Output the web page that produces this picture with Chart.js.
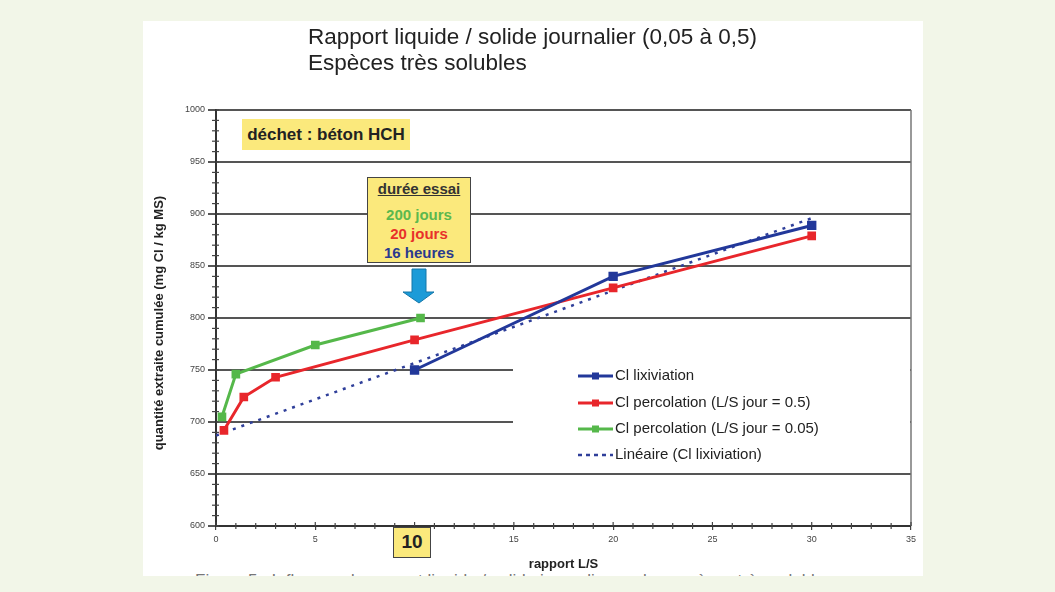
<!DOCTYPE html>
<html><head><meta charset="utf-8">
<script src="https://cdn.jsdelivr.net/npm/chart.js@4.4.1/dist/chart.umd.min.js"></script>
<style>
html,body{margin:0;padding:0;width:1055px;height:592px;overflow:hidden;background:#f2f6e8;font-family:"Liberation Sans",Arial,sans-serif;}
#panel{position:absolute;left:143px;top:21px;width:780px;height:555px;background:#fff;overflow:hidden;}
#cap{position:absolute;left:52px;top:550px;font-size:17px;color:#777;white-space:nowrap;}
#c{position:absolute;left:0;top:0;}
.t{position:absolute;color:#222;white-space:nowrap;}
.box{position:absolute;background:#fbe97c;box-sizing:border-box;text-align:center;font-weight:bold;color:#222;}
</style></head><body>
<div id="panel"><div id="cap">Figure 5 : Influence du rapport liquide / solide journalier sur les espèces très solubles</div></div>
<canvas id="c" width="1055" height="592"></canvas>
<div class="t" style="left:308px;top:24px;font-size:22.5px">Rapport liquide / solide journalier (0,05 à 0,5)</div>
<div class="t" style="left:308px;top:50px;font-size:22.5px">Espèces très solubles</div>
<div class="box" style="left:242px;top:119px;width:168px;height:31px;font-size:17px;line-height:31px;">déchet : béton HCH</div>
<div class="box" style="left:367px;top:177px;width:104px;height:86px;border:1.5px solid #444;font-size:15px;line-height:19px;padding-top:1px;">
<div style="text-decoration:underline;color:#333">durée essai</div>
<div style="height:7px"></div>
<div style="color:#5cb84e">200 jours</div>
<div style="color:#e8312a">20 jours</div>
<div style="color:#2a3a8f">16 heures</div>
</div>
<div class="box" style="left:393px;top:527px;width:38px;height:31px;border:1.5px solid #444;font-size:19px;line-height:28px;">10</div>
<script>
// ---- data ----
const xTicksMin = 0, xTicksMax = 35, xTickStep = 5;
const yTicksMin = 600, yTicksMax = 1000, yTickStep = 50;
const seriesNames = ["Cl lixiviation", "Cl percolation (L/S jour = 0.5)", "Cl percolation (L/S jour = 0.05)", "Linéaire (Cl lixiviation)"];
const lixX = [10, 20, 30];
const lixY = [750, 840, 889];
const perc05X = [0.4, 1.4, 3, 10, 20, 30];
const perc05Y = [692, 724, 743, 779, 829, 879];
const perc005X = [0.3, 1, 5, 10.3];
const perc005Y = [705, 746, 774, 800];
const trendX = [0, 30];
const trendY = [687, 896];
const xTitle = "rapport L/S";
const yTitle = "quantité extraite cumulée (mg Cl / kg MS)";

const FONT = '"Liberation Sans", Arial, sans-serif';
const pts = (xs, ys) => xs.map((x, i) => ({x: x, y: ys[i]}));
const colors = ['#22389a', '#e8262b', '#55b84a', '#2f3f9a'];

const decor = {
  id: 'decor',
  beforeDatasetsDraw(chart) {
    const ctx = chart.ctx, a = chart.chartArea, xs = chart.scales.x, ys = chart.scales.y;
    ctx.save();
    // legend box (white, hides grid)
    ctx.fillStyle = '#fff';
    ctx.fillRect(513, 348, a.right - 514, 118);
    // right border
    ctx.strokeStyle = '#777'; ctx.lineWidth = 1.5;
    ctx.beginPath(); ctx.moveTo(a.right, a.top); ctx.lineTo(a.right, a.bottom); ctx.stroke();
    // minor ticks
    ctx.strokeStyle = '#444'; ctx.lineWidth = 1.2;
    for (let v = yTicksMin; v <= yTicksMax; v += 10) {
      const p = ys.getPixelForValue(v);
      ctx.beginPath();
      if (v % 50 === 0) { ctx.moveTo(a.left, p); ctx.lineTo(a.left + 3, p); }
      else { ctx.moveTo(a.left - 4, p); ctx.lineTo(a.left + 3, p); }
      ctx.stroke();
    }
    for (let v = xTicksMin; v <= xTicksMax; v += 1) {
      const p = xs.getPixelForValue(v);
      ctx.beginPath();
      if (v % 5 === 0) { ctx.moveTo(p, a.bottom - 4); ctx.lineTo(p, a.bottom); }
      else { ctx.moveTo(p, a.bottom - 3); ctx.lineTo(p, a.bottom + 3); }
      ctx.stroke();
    }
    ctx.restore();
  },
  afterDatasetsDraw(chart) {
    const ctx = chart.ctx;
    ctx.save();
    const rows = [376, 403, 429, 455];
    chart.data.datasets.forEach((ds, i) => {
      const y = rows[i];
      ctx.strokeStyle = ds.borderColor; ctx.lineWidth = i === 3 ? 2.5 : 3;
      ctx.setLineDash(i === 3 ? [4, 4] : []);
      ctx.beginPath(); ctx.moveTo(578, y); ctx.lineTo(613, y); ctx.stroke();
      ctx.setLineDash([]);
      if (i < 3) { ctx.fillStyle = ds.borderColor; ctx.fillRect(592, y - 3.5, 7, 7); }
      ctx.fillStyle = '#222'; ctx.font = '15px ' + FONT; ctx.textBaseline = 'middle'; ctx.textAlign = 'left';
      ctx.fillText(ds.label, 615, y);
    });
    // axis titles
    const a = chart.chartArea;
    ctx.fillStyle = '#222';
    ctx.font = 'bold 13px ' + FONT; ctx.textAlign = 'center'; ctx.textBaseline = 'middle';
    ctx.fillText(xTitle, (a.left + a.right) / 2, 564);
    ctx.translate(159, (a.top + a.bottom) / 2 + 5); ctx.rotate(-Math.PI / 2);
    ctx.font = 'bold 13px ' + FONT;
    ctx.fillText(yTitle, 0, 0);
    ctx.restore();
    // arrow
    ctx.save();
    ctx.fillStyle = '#1c9bd8'; ctx.strokeStyle = '#1476a8'; ctx.lineWidth = 1;
    ctx.beginPath();
    ctx.moveTo(412, 269); ctx.lineTo(426, 269); ctx.lineTo(426, 292); ctx.lineTo(434, 292);
    ctx.lineTo(419, 303); ctx.lineTo(403, 292); ctx.lineTo(412, 292); ctx.closePath();
    ctx.fill(); ctx.stroke();
    ctx.restore();
  }
};

new Chart(document.getElementById('c'), {
  type: 'line',
  data: {
    datasets: [
      {label: seriesNames[0], data: pts(lixX, lixY), borderColor: colors[0], backgroundColor: colors[0], borderWidth: 3, pointStyle: 'rect', pointRadius: 4.5, tension: 0},
      {label: seriesNames[1], data: pts(perc05X, perc05Y), borderColor: colors[1], backgroundColor: colors[1], borderWidth: 3, pointStyle: 'rect', pointRadius: 4, tension: 0},
      {label: seriesNames[2], data: pts(perc005X, perc005Y), borderColor: colors[2], backgroundColor: colors[2], borderWidth: 3, pointStyle: 'rect', pointRadius: 4, tension: 0},
      {label: seriesNames[3], data: pts(trendX, trendY), borderColor: colors[3], backgroundColor: colors[3], borderWidth: 2.5, borderDash: [3, 6], pointRadius: 0, tension: 0}
    ]
  },
  options: {
    responsive: false, animation: false, devicePixelRatio: 1,
    layout: {padding: {left: 0, right: 144, top: 110, bottom: 0}},
    plugins: {legend: {display: false}, tooltip: {enabled: false}},
    scales: {
      x: {
        type: 'linear', min: xTicksMin, max: xTicksMax,
        afterFit: s => { s.height = 66; },
        ticks: {stepSize: xTickStep, font: {size: 9, family: FONT}, color: '#444', padding: 4, maxRotation: 0, callback: v => String(v)},
        grid: {drawOnChartArea: false, drawTicks: true, tickLength: 4, color: '#444', lineWidth: 1.2},
        border: {color: '#333', width: 2}
      },
      y: {
        type: 'linear', min: yTicksMin, max: yTicksMax,
        afterFit: s => { s.width = 216; },
        ticks: {stepSize: yTickStep, font: {size: 9, family: FONT}, color: '#444', padding: 3, callback: v => String(v)},
        grid: {color: '#555', lineWidth: 2, tickLength: 8},
        border: {color: '#333', width: 2}
      }
    }
  },
  plugins: [decor]
});
</script>
</body></html>
